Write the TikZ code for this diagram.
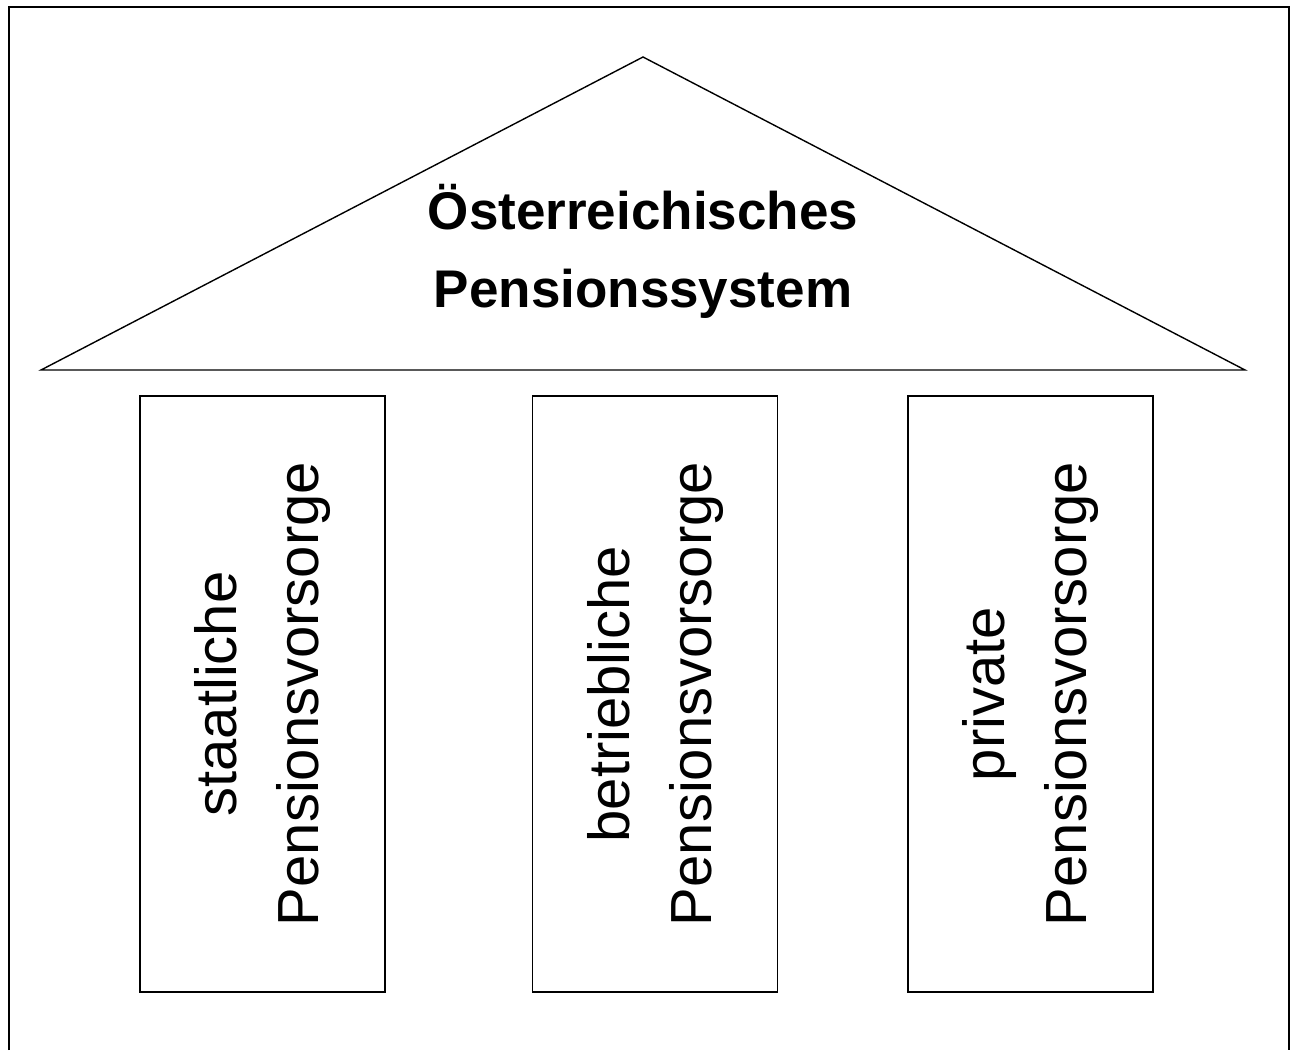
\documentclass[tikz,border=0pt]{standalone}
\usepackage{fontspec}
\setmainfont{Liberation Sans}
\begin{document}
\begin{tikzpicture}[x=1pt,y=-1pt,
  frameline/.style={line width=2pt},
  roofline/.style={line width=1.4pt},
  pillar/.style={draw,line width=1.4pt,minimum width=245pt,minimum height=596pt,inner sep=0pt},
  pillartext/.style={rotate=90,align=center,font=\fontsize{58}{82}\selectfont},
  titletext/.style={align=center,font=\fontsize{53}{78}\selectfont\bfseries}]
\useasboundingbox (0,0) rectangle (1297,1050);
\draw[frameline] (9,1050) -- (9,7) -- (1289,7) -- (1289,1050);
\coordinate (rl) at (41,370);
\coordinate (apex) at (643,57);
\coordinate (rr) at (1245,370);
\draw[roofline,line join=miter] (rl) -- (apex) -- (rr) -- cycle;
\node[titletext] (title) at (643,251) {Österreichisches\\Pensionssystem};
\node[pillar] (p1) at (262.5,694) {};
\node[pillar] (p2) at (655,694) {};
\node[pillar] (p3) at (1030.5,694) {};
\node[pillartext] (t1) at (p1.center) {staatliche\\Pensionsvorsorge};
\node[pillartext] (t2) at (p2.center) {betriebliche\\Pensionsvorsorge};
\node[pillartext] (t3) at (p3.center) {private\\Pensionsvorsorge};
\end{tikzpicture}
\end{document}
